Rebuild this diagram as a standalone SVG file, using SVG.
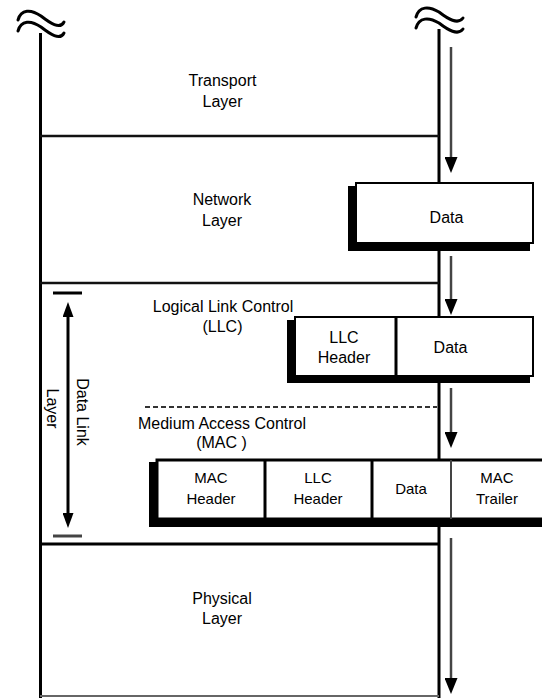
<svg xmlns="http://www.w3.org/2000/svg" width="542" height="698" viewBox="0 0 542 698">
<style>
.t{font-family:"Liberation Sans",Arial,sans-serif;font-size:16px;fill:#000;text-anchor:middle}
.s{font-size:15px}
.ln{stroke:#000;stroke-width:3;fill:none}
.hl{stroke:#111;stroke-width:2.5;fill:none}
.wv{stroke:#000;stroke-width:3;fill:none;stroke-linecap:round}
.arw{stroke:#444;stroke-width:2.5;fill:none}
.shadow{fill:#000}
.face{fill:#fff;stroke:#000;stroke-width:2}
</style>
<defs>
<marker id="ah" markerUnits="userSpaceOnUse" viewBox="0 0 16 13" markerWidth="16" markerHeight="13" refX="10" refY="6.5" orient="auto">
<path d="M0,0 L16,6.5 L0,13 Z" fill="#000"/>
</marker>
<marker id="ah2" markerUnits="userSpaceOnUse" viewBox="0 0 15 11" markerWidth="15" markerHeight="11" refX="9" refY="5.5" orient="auto-start-reverse">
<path d="M0,0 L15,5.5 L0,11 Z" fill="#000"/>
</marker>
</defs>
<rect width="542" height="698" fill="#fff"/>

<g id="frame">
<path class="wv" d="M18,20 C21,9 31,9 41,16 C50,23 60,30 64,22"/>
<path class="wv" d="M18,31 C21,20 31,20 41,27 C50,34 60,41 64,33"/>
<path class="wv" d="M416,17 C419,6 429,6 439,12 C448,19 458,25 463,18"/>
<path class="wv" d="M416,28 C419,17 429,17 439,23 C448,30 458,36 463,29"/>
<line class="ln" x1="40.5" y1="33" x2="40.5" y2="698"/>
<line class="ln" x1="439" y1="29" x2="439" y2="698"/>
<line class="hl" x1="40" y1="136" x2="439" y2="136"/>
<line class="hl" x1="40" y1="283" x2="439" y2="283"/>
<line class="ln" x1="40" y1="544" x2="439" y2="544"/>
<line stroke="#666" stroke-width="2" x1="40" y1="696" x2="439" y2="696"/>
<line stroke="#333" stroke-width="2" stroke-dasharray="5 3" x1="145" y1="407" x2="437" y2="407"/>
</g>

<g id="transport">
<text class="t" x="222.5" y="86">Transport</text>
<text class="t" x="222.5" y="107">Layer</text>
</g>
<g id="network">
<text class="t" x="222" y="205">Network</text>
<text class="t" x="222" y="226">Layer</text>
</g>
<g id="llc">
<text class="t" x="223" y="312">Logical Link Control</text>
<text class="t" x="222.5" y="332">(LLC)</text>
</g>
<g id="mac">
<text class="t" x="222" y="429">Medium Access Control</text>
<text class="t" x="221.5" y="448">(MAC )</text>
</g>
<g id="physical">
<text class="t" x="222" y="604">Physical</text>
<text class="t" x="222" y="624">Layer</text>
</g>

<g id="datalink">
<line class="ln" x1="53" y1="293" x2="82" y2="293"/>
<line stroke="#444" stroke-width="3" x1="53" y1="536" x2="82" y2="536"/>
<line class="ln" x1="68" y1="308" x2="68" y2="522" marker-start="url(#ah2)" marker-end="url(#ah2)"/>
<text class="t" transform="translate(82.5,412) rotate(90)" y="5.7">Data Link</text>
<text class="t" transform="translate(52.5,408.5) rotate(90)" y="5.7">Layer</text>
</g>

<g id="net-data">
<rect class="shadow" x="348" y="186" width="182" height="65"/>
<rect class="face" x="356" y="183" width="177" height="60"/>
<text class="t" x="446.5" y="222.5">Data</text>
</g>

<g id="llc-pdu">
<rect class="shadow" x="287" y="320" width="243" height="63"/>
<rect class="face" x="295" y="317" width="238" height="59"/>
<line class="ln" stroke-width="2.5" x1="396" y1="317" x2="396" y2="376"/>
<text class="t" x="344" y="343">LLC</text>
<text class="t" x="344" y="363">Header</text>
<text class="t" x="450.5" y="353">Data</text>
</g>

<g id="mac-frame">
<rect class="shadow" x="149" y="462" width="400" height="65"/>
<rect class="face" style="stroke-width:3" x="157" y="460" width="400" height="59"/>
<line class="ln" x1="265" y1="460" x2="265" y2="519"/>
<line class="ln" x1="372" y1="460" x2="372" y2="519"/>
<line stroke="#444" stroke-width="2" x1="451" y1="460" x2="451" y2="519"/>
<text class="t s" x="211" y="483">MAC</text>
<text class="t s" x="211" y="504">Header</text>
<text class="t s" x="318" y="483">LLC</text>
<text class="t s" x="318" y="504">Header</text>
<text class="t s" x="411" y="494">Data</text>
<text class="t s" x="497" y="483">MAC</text>
<text class="t s" x="497" y="504">Trailer</text>
</g>

<g id="connectors">
<line class="arw" x1="451" y1="47" x2="451" y2="167" marker-end="url(#ah)"/>
<line class="arw" x1="451" y1="256" x2="451" y2="309" marker-end="url(#ah)"/>
<line class="arw" x1="451" y1="388" x2="451" y2="442" marker-end="url(#ah)"/>
<line class="arw" x1="451" y1="538" x2="451" y2="688" marker-end="url(#ah)"/>
</g>
</svg>
